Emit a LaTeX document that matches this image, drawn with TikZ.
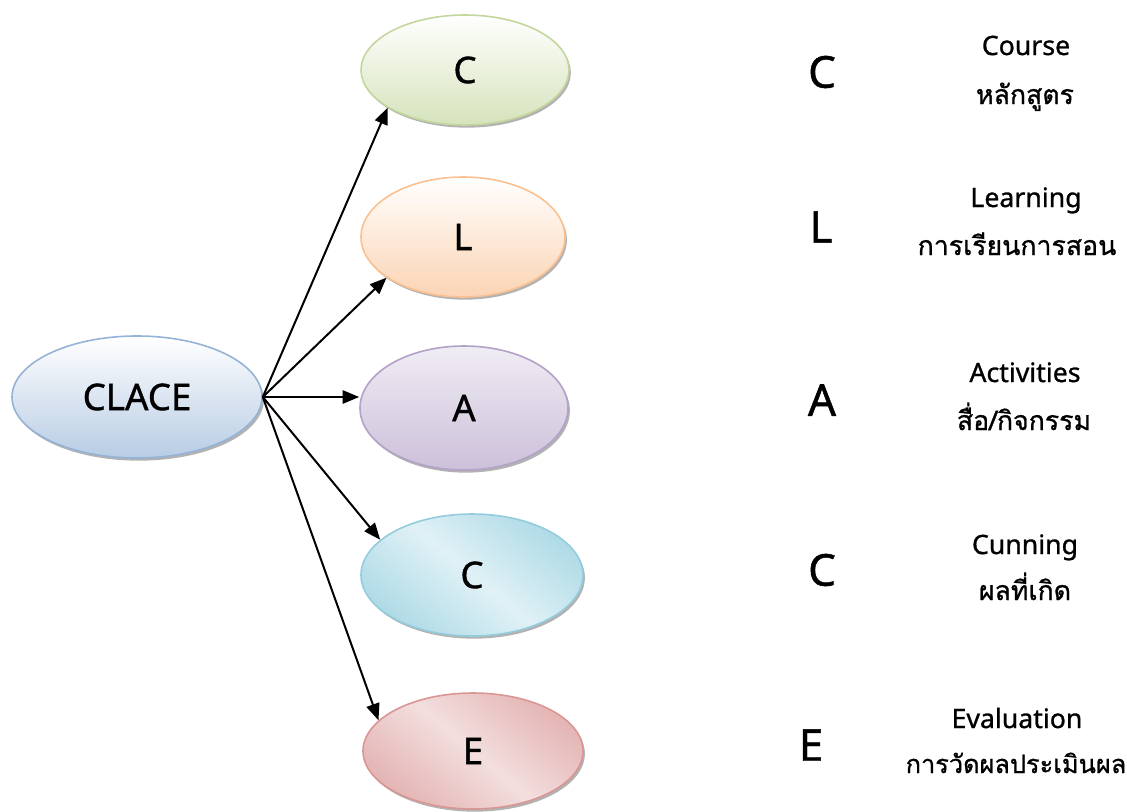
\documentclass[tikz,border=0pt]{standalone}
\usepackage{fontspec}
\setmainfont{Noto Sans}[FakeBold=1]
\newfontfamily\thaifont[Script=Thai,FakeBold=1]{Loma}
\usetikzlibrary{shapes.geometric,shadows,arrows.meta}
\definecolor{grnB}{HTML}{C3D69B}\definecolor{grnF}{HTML}{D6E3BC}
\definecolor{orgB}{HTML}{FAC090}\definecolor{orgF}{HTML}{FBD4B4}
\definecolor{purB}{HTML}{B3A2C7}\definecolor{purF}{HTML}{CCC0DA}
\definecolor{bluB}{HTML}{95B3D7}\definecolor{bluF}{HTML}{B8CCE4}
\definecolor{cyaB}{HTML}{93CDDD}\definecolor{cyaD}{HTML}{A9D8E4}\definecolor{cyaL}{HTML}{E0F1F6}
\definecolor{redB}{HTML}{D99694}\definecolor{redD}{HTML}{E2B0AF}\definecolor{redL}{HTML}{F3DEDE}
\pgfdeclarehorizontalshading{cyanmirror}{100bp}{color(0bp)=(cyaD); color(22bp)=(cyaD); color(50bp)=(cyaL); color(78bp)=(cyaD); color(100bp)=(cyaD)}
\pgfdeclarehorizontalshading{redmirror}{100bp}{color(0bp)=(redD); color(22bp)=(redD); color(50bp)=(redL); color(78bp)=(redD); color(100bp)=(redD)}
\tikzset{
  oval/.style={ellipse, inner sep=0pt, line width=1.2pt,
    font=\fontsize{27.5}{30}\selectfont,
    drop shadow={shadow xshift=1.4pt, shadow yshift=-2pt, fill=black!60}},
  conn/.style={-{Triangle[length=12.5pt,width=10pt]}, line width=1.5pt},
  bigletter/.style={font=\fontsize{33}{36}\selectfont, inner sep=0pt},
  engl/.style={font=\fontsize{20}{22}\selectfont, anchor=base, inner sep=0pt},
  thl/.style={font=\thaifont\fontsize{20}{24}\selectfont, anchor=base, inner sep=0pt}
}
\begin{document}
\begin{tikzpicture}[x=0.75pt,y=-0.75pt]
\useasboundingbox (0,0) rectangle (1127,811);
% ovals
\node[oval, minimum width=187.5pt, minimum height=91.5pt, draw=bluB, top color=white, bottom color=bluF] (clace) at (137,397) {CLACE};
\node[oval, minimum width=156pt, minimum height=82.5pt, draw=grnB, top color=white, bottom color=grnF] (c1) at (465,70) {C};
\node[oval, minimum width=153pt, minimum height=90pt, draw=orgB, top color=white, bottom color=orgF] (l) at (463,237) {L};
\node[oval, minimum width=156pt, minimum height=93pt, draw=purB, top color=white!70!purF, bottom color=purF] (a) at (464,408) {A};
\node[oval, minimum width=166.5pt, minimum height=91.5pt, draw=cyaB, shading=cyanmirror, shading angle=50] (c2) at (472,575) {C};
\node[oval, minimum width=165pt, minimum height=87pt, draw=redB, shading=redmirror, shading angle=50] (e) at (473,751) {E};
% connectors
\draw[conn] (clace.east) -- (c1.206);
\draw[conn] (clace.east) -- (l.208);
\draw[conn] (clace.east) -- (clace.east -| a.west);
\draw[conn] (clace.east) -- (c2.159);
\draw[conn] (clace.east) -- (e.162);
% right letters
\node[bigletter] (rc1) at (822,72) {C};
\node[bigletter] (rl) at (821,227) {L};
\node[bigletter] (ra) at (822,400) {A};
\node[bigletter] (rc2) at (822,570) {C};
\node[bigletter] (re) at (811,745) {E};
% descriptions
\node[engl] (t1) at (1026,55) {Course};
\node[thl] (t1th) at (1025,104) {หลักสูตร};
\node[engl] (t2) at (1026,207) {Learning};
\node[thl] (t2th) at (1017,255) {การเรียนการสอน};
\node[engl] (t3) at (1025,382) {Activities};
\node[thl] (t3th) at (1024,430) {สื่อ/กิจกรรม};
\node[engl] (t4) at (1025,554) {Cunning};
\node[thl] (t4th) at (1025,600) {ผลที่เกิด};
\node[engl] (t5) at (1017,728) {Evaluation};
\node[thl, font=\thaifont\fontsize{19}{22}\selectfont] (t5th) at (1016,773) {การวัดผลประเมินผล};
\end{tikzpicture}
\end{document}
